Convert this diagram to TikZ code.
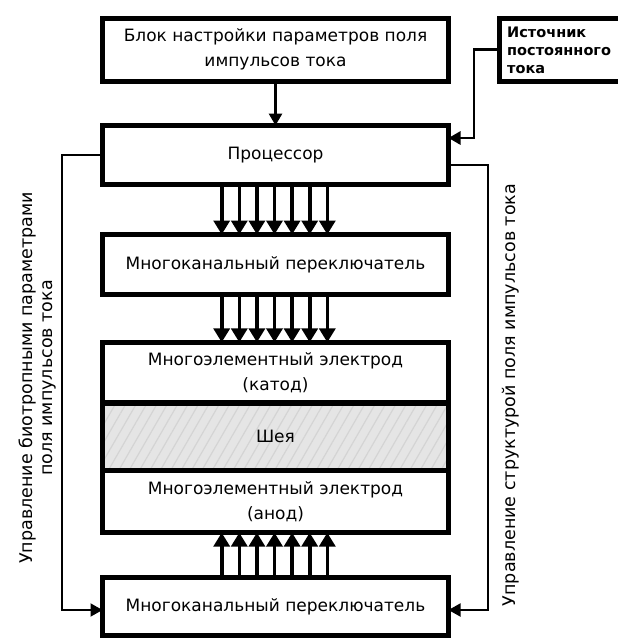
\documentclass[tikz,border=0pt]{standalone}
\usepackage{fontspec}
\setmainfont{DejaVu Sans}
\usetikzlibrary{arrows.meta,calc,patterns.meta}
\begin{document}
\begin{tikzpicture}[x=1pt,y=-1pt,
  box/.style={draw, line width=5pt, inner sep=0pt, outer sep=0pt, align=center,
    font=\fontsize{17}{25}\selectfont},
  conn/.style={line width=2.8pt},
  bundle/.style={line width=3.6pt, -{Triangle[width=16pt,length=14pt]}},
  fb/.style={line width=1.9pt},
  tip/.style={-{Triangle[width=13pt,length=12pt]}},
  lbl/.style={align=center, font=\fontsize{17.5}{20}\selectfont, inner sep=0pt}]
\useasboundingbox (0,0) rectangle (618,640);
\clip (0,0) rectangle (618,640);
\coordinate (lx) at (62,0);
\coordinate (rx) at (488,0);
\coordinate (ix) at (474,0);
% boxes
\node[box, minimum width=346pt, minimum height=63pt] (top) at (275.5,49.5)
  {Блок настройки параметров поля\\импульсов тока};
\node[box, minimum width=200pt, minimum height=63pt] (ist) at (599.5,49.5) {};
\node[anchor=north west, align=left, inner sep=0pt,
  font=\bfseries\fontsize{14.5}{18}\selectfont] (istlbl) at (507,27)
  {Источник\\постоянного\\тока};
\node[box, minimum width=346pt, minimum height=59pt] (proc) at (275.5,155) {Процессор};
\node[box, minimum width=346pt, minimum height=60pt] (sw1) at (275.5,264.5)
  {Многоканальный переключатель};
\node[box, minimum width=346pt, minimum height=60.5pt] (cath) at (275.5,372.6)
  {Многоэлементный электрод\\(катод)};
\node[box, minimum width=346pt, minimum height=67pt,
  preaction={fill=gray!20},
  pattern={Lines[angle=60,distance=9pt,line width=1.2pt]}, pattern color=gray!34] (neck) at (275.5,436.5) {};
\node[font=\fontsize{17}{25}\selectfont, inner sep=0pt] (necklbl) at (neck.center) {Шея};
\node[box, minimum width=346pt, minimum height=62.5pt] (anode) at (275.5,501.4)
  {Многоэлементный электрод\\(анод)};
\node[box, minimum width=346pt, minimum height=58pt] (sw2) at (275.5,606.5)
  {Многоканальный переключатель};
% connectors
\draw[conn,tip] (top.south) -- (proc.north);
\draw[conn,tip] (ist.west) -- (ist.west -| ix) |- ($(proc.east)+(0,-17)$);
\foreach \d in {-3,...,3}{
  \draw[bundle] ($(proc.south)+(\d*17.6-1,0)$) -- ($(sw1.north)+(\d*17.6-1,0)$);
  \draw[bundle] ($(sw1.south)+(\d*17.6-1,0)$) -- ($(cath.north)+(\d*17.6-1,0)$);
  \draw[bundle] ($(sw2.north)+(\d*17.6-1,0)$) -- ($(anode.south)+(\d*17.6-1,0)$);
}
\draw[fb,tip] (proc.west) -- (proc.west -| lx) |- ($(sw2.west)+(0,3.5)$);
\draw[fb,tip] ($(proc.east)+(0,10)$) -- ($(proc.east -| rx)+(0,10)$) |- ($(sw2.east)+(0,3.5)$);
% side labels
\node[lbl, rotate=90] (ltext) at (38,378)
  {Управление биотропными параметрами\\поля импульсов тока};
\node[lbl, rotate=90] (rtext) at (511,395)
  {Управление структурой поля импульсов тока};
\end{tikzpicture}
\end{document}
